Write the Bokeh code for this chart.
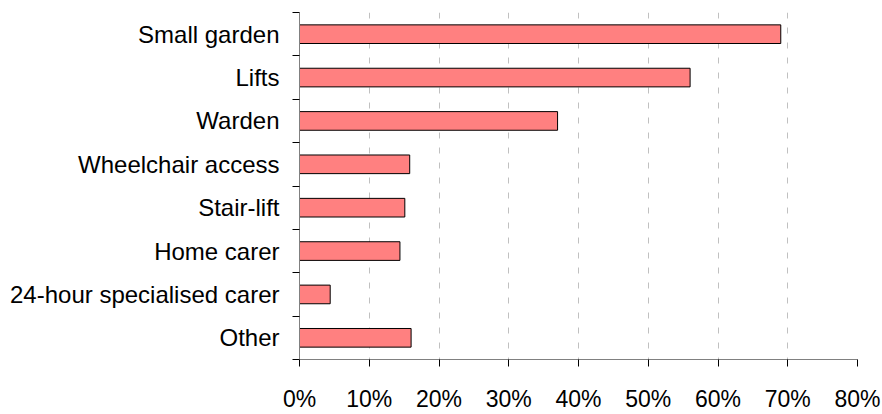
from bokeh.plotting import figure
from bokeh.models import Range1d, FixedTicker, PrintfTickFormatter, ColumnDataSource
from bokeh.embed import file_html
from bokeh.resources import INLINE

categories = ["Small garden", "Lifts", "Warden", "Wheelchair access", "Stair-lift",
              "Home carer", "24-hour specialised carer", "Other"]
values = [69, 56, 37, 15.8, 15.1, 14.4, 4.4, 16]
x_ticks = [0, 10, 20, 30, 40, 50, 60, 70, 80]

n = len(categories)
idx = list(range(n))
src = ColumnDataSource(dict(y=idx, v=values, cat=categories))

p = figure(width=882, height=414, output_backend="svg", toolbar_location=None,
           x_range=Range1d(0, 80), y_range=Range1d(n - 0.5, -0.5),
           min_border_left=299, min_border_right=25, min_border_top=12, min_border_bottom=47)
p.outline_line_color = None
p.background_fill_color = "white"

p.hbar(y="y", right="v", left=0, height=0.43, source=src,
       fill_color="#FF8080", line_color="black", line_width=1)

FONT = "Liberation Sans"

# x axis
xa = p.xaxis[0]
xa.ticker = FixedTicker(ticks=x_ticks)
xa.formatter = PrintfTickFormatter(format="%d%%")
xa.axis_line_color = "#808080"
xa.axis_line_width = 1
xa.major_tick_line_color = "black"
xa.major_tick_out = 7
xa.major_tick_in = 0
xa.minor_tick_line_color = None
xa.major_label_text_font = FONT
xa.major_label_text_font_size = "23px"
xa.major_label_text_color = "black"
xa.major_label_standoff = 19

# y axis
ya = p.yaxis[0]
ya.ticker = FixedTicker(ticks=idx, minor_ticks=[i - 0.5 for i in range(n + 1)])
ya.major_label_overrides = {i: c for i, c in zip(idx, categories)}
ya.axis_line_color = "#808080"
ya.axis_line_width = 1
ya.major_tick_line_color = None
ya.major_tick_out = 0
ya.major_tick_in = 0
ya.minor_tick_line_color = "black"
ya.minor_tick_out = 7
ya.minor_tick_in = 0
ya.major_label_text_font = FONT
ya.major_label_text_font_size = "24px"
ya.major_label_text_color = "black"
ya.major_label_standoff = 13

# grid
p.ygrid.grid_line_color = None
p.xgrid.ticker = FixedTicker(ticks=x_ticks[1:])
p.xgrid.grid_line_color = "#C0C0C0"
p.xgrid.grid_line_dash = "6 9"
p.xgrid.grid_line_width = 1

open("out.html", "w").write(file_html(p, INLINE))
